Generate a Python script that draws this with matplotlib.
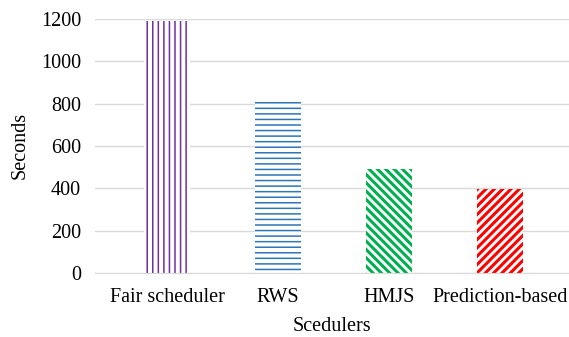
import matplotlib
matplotlib.use("Agg")
import matplotlib.pyplot as plt

# data
schedulers = ["Fair scheduler", "RWS", "HMJS", "Prediction-based"]
seconds = [1190, 810, 490, 395]
colors = ["#7030a0", "#2e75b6", "#00b050", "#ff0000"]
hatches = ["|||", "---", "\\\\\\\\", "////"]
hatch_lw = [1.1, 1.1, 2.2, 2.2]

plt.rcParams["font.family"] = ["Liberation Serif", "DejaVu Serif"]
plt.rcParams["font.size"] = 14.5

fig = plt.figure(figsize=(5.69, 3.37), dpi=100)
ax = fig.add_axes([0.167, 0.19, 0.833, 0.754])

x = range(len(schedulers))
for i in x:
    with plt.rc_context({"hatch.linewidth": hatch_lw[i]}):
        b = ax.bar(i, seconds[i], width=0.42, color="white",
                   edgecolor=colors[i], hatch=hatches[i], linewidth=0)
        for p in b:
            try:
                p.set_hatch_linewidth(hatch_lw[i])
            except AttributeError:
                pass

ax.set_xlim(-0.65, 3.62)
ax.set_ylim(0, 1200)
ax.set_yticks(range(0, 1201, 200))
ax.set_xticks(list(x))
ax.set_xticklabels(schedulers)
ax.tick_params(length=0, pad=10)
ax.tick_params(axis="x", pad=11)
ax.grid(axis="y", color="#d9d9d9", linewidth=1)
ax.set_axisbelow(True)
for s in ["top", "right", "left"]:
    ax.spines[s].set_visible(False)
ax.spines["bottom"].set_color("#d9d9d9")
ax.set_xlabel("Scedulers", labelpad=7)
ax.set_ylabel("Seconds", labelpad=8)

fig.savefig("out.png", dpi=100)
